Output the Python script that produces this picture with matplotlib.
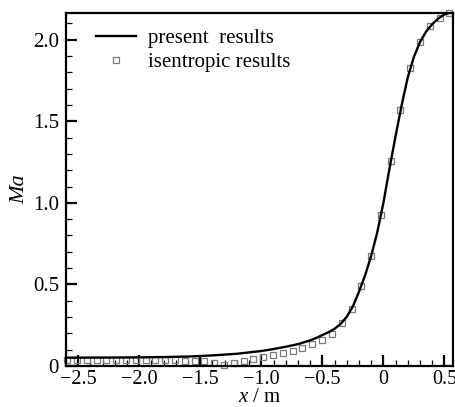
import numpy as np
import matplotlib
matplotlib.use("Agg")
import matplotlib.pyplot as plt
from matplotlib.ticker import MultipleLocator, FuncFormatter

# present results (solid line)
line_x = [-2.60, -2.20, -2.00, -1.80, -1.60, -1.40, -1.20, -1.00, -0.90, -0.80,
          -0.70, -0.60, -0.55, -0.50, -0.45, -0.40, -0.35, -0.30, -0.25, -0.20,
          -0.15, -0.10, -0.05, 0.00, 0.05, 0.10, 0.15, 0.20, 0.25, 0.30, 0.35,
          0.40, 0.45, 0.50, 0.55]
line_ma = [0.051, 0.052, 0.053, 0.055, 0.058, 0.065, 0.075, 0.092, 0.104, 0.118,
           0.134, 0.157, 0.172, 0.190, 0.207, 0.228, 0.258, 0.302, 0.365, 0.455,
           0.555, 0.675, 0.820, 1.000, 1.210, 1.410, 1.600, 1.770, 1.895, 1.985, 2.050,
           2.095, 2.130, 2.155, 2.167]

# isentropic results (open squares)
iso_x = [-2.590, -2.510, -2.429, -2.349, -2.269, -2.188, -2.108, -2.028, -1.948, -1.867,
         -1.787, -1.707, -1.626, -1.546, -1.466, -1.385, -1.305, -1.225, -1.145, -1.064,
         -0.984, -0.904, -0.823, -0.743, -0.663, -0.582, -0.502, -0.422, -0.342, -0.261,
         -0.181, -0.101, -0.020, 0.060, 0.140, 0.220, 0.301, 0.381, 0.461, 0.541]
iso_ma = [0.038, 0.037, 0.037, 0.036, 0.036, 0.035, 0.035, 0.035, 0.034, 0.034,
          0.034, 0.034, 0.033, 0.033, 0.030, 0.020, 0.007, 0.018, 0.030, 0.043,
          0.055, 0.067, 0.080, 0.093, 0.110, 0.135, 0.160, 0.197, 0.262, 0.352,
          0.490, 0.673, 0.924, 1.255, 1.567, 1.824, 1.983, 2.081, 2.136, 2.166]

x_major = [-2.5, -2.0, -1.5, -1.0, -0.5, 0.0, 0.5]
y_major = [0.0, 0.5, 1.0, 1.5, 2.0]

plt.rcParams['font.family'] = ['Liberation Serif', 'DejaVu Serif']
plt.rcParams['mathtext.fontset'] = 'custom'
plt.rcParams['mathtext.rm'] = 'Liberation Serif'
plt.rcParams['mathtext.it'] = 'Liberation Serif:italic'

fig = plt.figure(figsize=(4.55, 4.07), dpi=100)
ax = fig.add_axes([0.145, 0.1007, 0.850, 0.8683])

ax.plot(line_x, line_ma, color='black', lw=1.7, label='present  results', zorder=3)
ax.plot(iso_x, iso_ma, linestyle='none', marker='s', markersize=5,
        markerfacecolor='none', markeredgecolor='#7a7a7a', markeredgewidth=0.9,
        label='isentropic results', zorder=2, clip_on=False)

ax.set_xlim(-2.6, 0.568)
ax.set_ylim(0, 2.166)

def fmt(v, pos):
    if abs(v) < 1e-9:
        return '0'
    s = f'{v:.1f}'
    return s.replace('-', '\u2212')

ax.set_xticks(x_major)
ax.set_yticks(y_major)
ax.xaxis.set_major_formatter(FuncFormatter(fmt))
ax.yaxis.set_major_formatter(FuncFormatter(fmt))
ax.xaxis.set_minor_locator(MultipleLocator(0.1))
ax.yaxis.set_minor_locator(MultipleLocator(0.1))
ax.tick_params(which='both', direction='in', top=False, right=False, labelsize=15)
ax.tick_params(axis='x', which='major', labelsize=14.5, pad=3)
ax.tick_params(which='major', length=8, width=1.6)
ax.tick_params(which='minor', length=4, width=0.9)
ax.tick_params(axis='y', which='major', pad=5)
for sp in ax.spines.values():
    sp.set_linewidth(1.6)

ax.set_xlabel(r'$\it{x}$ / m', fontsize=15)
ax.set_ylabel('Ma', fontsize=16, style='italic')
ax.xaxis.set_label_coords(0.5, -0.103)
ax.xaxis.label.set_va('baseline')
ax.yaxis.set_label_coords(-0.12, 0.5)
ax.yaxis.label.set_va('center')

leg = ax.legend(loc='upper left', frameon=False, fontsize=15, handlelength=1.9,
                handletextpad=0.58, labelspacing=0.2, borderaxespad=0.0,
                borderpad=0.0, bbox_to_anchor=(0.0776, 0.955))

fig.savefig('out.png', dpi=100)
